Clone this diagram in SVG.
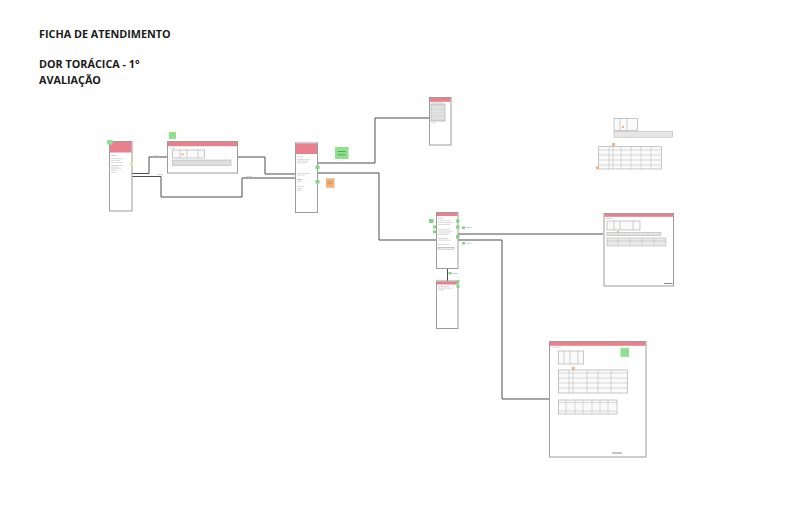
<svg xmlns="http://www.w3.org/2000/svg" width="789" height="506" viewBox="0 0 789 506">
  <style>
    .title { font-family: "Open Sans", "Liberation Sans", sans-serif; font-weight: 700; font-size: 10.8px; fill: #1a1a1a; }
    .card { fill: #ffffff; stroke: #9c9c9c; stroke-width: 1; }
    .hdr { fill: #e9808d; }
    .ln { fill: none; stroke: #4d4d4d; stroke-width: 1; }
    .tx { fill: #c4c4c4; }
    .tbl { fill: #f3f3f3; stroke: #a3a3a3; stroke-width: 0.6; }
    .row { fill: #d6d6d6; stroke: #a8a8a8; stroke-width: 0.5; }
    .gnote { fill: #8fe08f; }
    .onote { fill: #f2b27c; }
    .gdot { fill: #7fd87f; }
    .odot { fill: #f0a560; }
    .ydot { fill: #f2ec7a; }
    .foot { fill: #8c8c8c; }
  </style>

  <!-- heading -->
  <g id="heading">
    <text class="title" x="39" y="38">FICHA DE ATENDIMENTO</text>
    <text class="title" x="39" y="68">DOR TORÁCICA - 1°</text>
    <text class="title" x="39" y="84">AVALIAÇÃO</text>
  </g>

  <!-- connectors -->
  <g id="connectors">
    <polyline class="ln" points="132,173.5 149,173.5 149,157 167,157"/>
    <polyline class="ln" points="132,176.5 161,176.5 161,197 242,197 242,178 295,178"/>
    <polyline class="ln" points="238,157 265,157 265,174 295,174"/>
    <polyline class="ln" points="318,163 375,163 375,118 429,118"/>
    <polyline class="ln" points="318,173 379,173 379,240 436,240"/>
    <polyline class="ln" points="458,234 603,234"/>
    <polyline class="ln" points="458,240 502,240 502,399 549,399"/>
    <polyline class="ln" points="447.5,269 447.5,281"/>
    <!-- connector labels -->
    <rect class="tx" x="153" y="155.5" width="6" height="0.8"/>
    <rect class="tx" x="157" y="174.3" width="6" height="0.8"/>
    <rect class="tx" x="246" y="176.3" width="6" height="0.8"/>
    <rect class="gdot" x="462" y="226.5" width="3" height="2.5"/>
    <rect class="tx" x="465.5" y="227.2" width="6" height="0.8"/>
    <rect class="gdot" x="462" y="242" width="3" height="2.5"/>
    <rect class="tx" x="465.5" y="242.7" width="6" height="0.8"/>
    <rect class="gdot" x="448.5" y="272" width="3" height="2.5"/>
    <rect class="tx" x="452" y="273" width="6" height="0.8"/>
  </g>

  <!-- node: triagem -->
  <g id="node-triagem">
    <rect class="card" x="109.5" y="141.5" width="22.5" height="69.5"/>
    <rect class="hdr" x="110" y="142" width="21.5" height="10.5"/>
    <rect class="tx" x="111" y="155" width="6" height="0.7"/>
    <rect class="tx" x="111" y="158.5" width="12" height="0.6"/>
    <rect class="tx" x="111" y="160.3" width="9" height="0.6"/>
    <rect class="tx" x="111" y="162.1" width="11" height="0.6"/>
    <rect class="tx" x="111" y="165" width="12" height="0.6"/>
    <rect class="tx" x="111" y="166.8" width="8" height="0.6"/>
    <rect class="tx" x="111" y="168.6" width="10" height="0.6"/>
    <rect class="tx" x="111" y="170.4" width="6" height="0.6"/>
    <rect class="tx" x="111" y="172.2" width="5" height="0.6"/>
    <rect class="gnote" x="107" y="140" width="5.5" height="4.5"/>
    <rect class="ydot" x="130" y="162.5" width="3" height="2.5"/>
  </g>

  <!-- node: sinais vitais -->
  <g id="node-sinais">
    <rect class="card" x="167.5" y="141.5" width="70" height="31.5"/>
    <rect class="hdr" x="168" y="142" width="69" height="4.2"/>
    <rect class="tx" x="169" y="147.8" width="6" height="0.6"/>
    <rect class="tbl" x="172.5" y="150" width="32" height="8" style="fill:#fafafa"/>
    <line x1="180" y1="150" x2="180" y2="158" stroke="#a3a3a3" stroke-width="0.5"/>
    <line x1="187" y1="150" x2="187" y2="158" stroke="#a3a3a3" stroke-width="0.5"/>
    <line x1="198" y1="150" x2="198" y2="158" stroke="#a3a3a3" stroke-width="0.5"/>
    <circle class="odot" cx="182.5" cy="154.3" r="1.1"/>
    <rect class="row" x="172.5" y="160" width="58.5" height="5.5" style="fill:#dedede"/>
    <rect class="gnote" x="169" y="132" width="7" height="7"/>
  </g>

  <!-- node: anamnese -->
  <g id="node-anamnese">
    <rect class="card" x="295.5" y="143" width="22" height="69.5"/>
    <rect class="hdr" x="296" y="143.5" width="21" height="10.5"/>
    <rect class="tx" x="297" y="156.5" width="6" height="0.6"/>
    <rect class="tx" x="297" y="159" width="13" height="0.6"/>
    <rect class="tx" x="297" y="160.8" width="12" height="0.6"/>
    <rect class="tx" x="297" y="162.6" width="10" height="0.6"/>
    <rect class="tx" x="297" y="173" width="13" height="0.6"/>
    <rect class="tx" x="297" y="174.8" width="8" height="0.6"/>
    <rect class="tx" x="297" y="179" width="5" height="1.2"/>
    <rect class="tx" x="297" y="181.5" width="4" height="0.6"/>
    <rect class="tx" x="297" y="186" width="7" height="0.6"/>
    <rect class="tx" x="297" y="188" width="5" height="0.6"/>
    <rect class="tx" x="297" y="190" width="4" height="0.6"/>
    <rect class="gdot" x="315.5" y="165.5" width="4" height="3.5"/>
    <rect class="gdot" x="315.5" y="180" width="4" height="3.5"/>
    <rect class="gnote" x="335" y="147" width="13.5" height="12"/>
    <rect x="337.5" y="151" width="8" height="0.7" fill="#3f8f3f"/>
    <rect x="337.5" y="154.5" width="8" height="0.7" fill="#3f8f3f"/>
    <rect class="onote" x="326" y="178.3" width="8.5" height="9.5"/>
    <rect x="327.5" y="181.5" width="5" height="0.6" fill="#b87a4c"/>
    <rect x="327.5" y="183.5" width="5" height="0.6" fill="#b87a4c"/>
  </g>

  <!-- node: escores -->
  <g id="node-escores">
    <rect class="card" x="429.5" y="97.5" width="21.5" height="47.5"/>
    <rect class="hdr" x="430" y="98" width="20.5" height="3.8"/>
    <rect class="tx" x="431" y="102.5" width="12" height="0.6"/>
    <rect class="tbl" x="431" y="104" width="14" height="17" style="fill:#dcdcdc"/>
    <line x1="431" y1="107.5" x2="445" y2="107.5" stroke="#f3f3f3" stroke-width="0.5"/>
    <line x1="431" y1="111" x2="445" y2="111" stroke="#f3f3f3" stroke-width="0.5"/>
    <line x1="431" y1="114.5" x2="445" y2="114.5" stroke="#f3f3f3" stroke-width="0.5"/>
    <line x1="431" y1="118" x2="445" y2="118" stroke="#f3f3f3" stroke-width="0.5"/>
    <rect class="tx" x="431" y="122.5" width="5" height="0.6"/>
  </g>

  <!-- node: exame fisico -->
  <g id="node-exame">
    <rect class="card" x="436.5" y="212.5" width="21.5" height="56"/>
    <rect class="hdr" x="437" y="213" width="20.5" height="3"/>
    <rect class="tx" x="438" y="218" width="6" height="0.6"/>
    <rect class="tx" x="438" y="220.5" width="12" height="0.6"/>
    <rect class="tx" x="438" y="222.3" width="15" height="0.6"/>
    <rect class="tx" x="438" y="224.1" width="12" height="0.6"/>
    <rect class="tx" x="438" y="229" width="12" height="0.6"/>
    <rect class="tx" x="438" y="230.8" width="15" height="0.6"/>
    <rect class="tx" x="438" y="232.6" width="12" height="0.6"/>
    <rect class="tx" x="438" y="234.4" width="10" height="0.6"/>
    <rect class="tx" x="438" y="238" width="10" height="0.6"/>
    <rect class="tx" x="438" y="239.8" width="13" height="0.6"/>
    <rect class="tx" x="438" y="244" width="12" height="0.6"/>
    <rect x="438" y="247.5" width="16" height="1.6" fill="none" stroke="#8c8c8c" stroke-width="0.5"/>
    <rect class="gdot" x="429" y="219" width="4.5" height="4"/>
    <rect class="gdot" x="433" y="225.5" width="3" height="3"/>
    <rect class="gdot" x="433" y="230.3" width="3" height="3"/>
    <rect class="gdot" x="456" y="219.5" width="3.5" height="3"/>
    <rect class="gdot" x="456" y="225.5" width="3.5" height="3"/>
    <rect class="gdot" x="456" y="235" width="3.5" height="3.5"/>
  </g>

  <!-- node: conduta -->
  <g id="node-conduta">
    <rect class="card" x="436.5" y="281" width="21.5" height="47.5"/>
    <rect class="hdr" x="437" y="281.5" width="20.5" height="3"/>
    <rect class="tx" x="438" y="286" width="12" height="0.6"/>
    <rect class="tx" x="438" y="287.8" width="15" height="0.6"/>
    <rect class="tx" x="438" y="289.6" width="6" height="0.6"/>
    <rect class="gdot" x="456.5" y="280" width="3" height="3"/>
    <rect class="gdot" x="456.5" y="285" width="3" height="3"/>
  </g>

  <!-- node: exames complementares -->
  <g id="node-exames">
    <rect class="card" x="604" y="213.5" width="69.5" height="72.5"/>
    <rect class="hdr" x="604.5" y="214" width="68.5" height="2.8"/>
    <rect class="tx" x="606" y="218" width="6" height="0.6"/>
    <rect class="tbl" x="607" y="221" width="33" height="9" style="fill:#fafafa"/>
    <line x1="614" y1="221" x2="614" y2="230" stroke="#a3a3a3" stroke-width="0.5"/>
    <line x1="620" y1="221" x2="620" y2="230" stroke="#a3a3a3" stroke-width="0.5"/>
    <line x1="633" y1="221" x2="633" y2="230" stroke="#a3a3a3" stroke-width="0.5"/>
    <circle class="odot" cx="618" cy="232" r="1.1"/>
    <rect class="row" x="607" y="232.5" width="54" height="3" style="fill:#e2e2e2"/>
    <rect class="row" x="607" y="238" width="59" height="8" style="fill:#eaeaea"/>
    <line x1="607" y1="241" x2="666" y2="241" stroke="#a8a8a8" stroke-width="0.5"/>
    <line x1="618" y1="238" x2="618" y2="246" stroke="#a8a8a8" stroke-width="0.4"/>
    <line x1="630" y1="238" x2="630" y2="246" stroke="#a8a8a8" stroke-width="0.4"/>
    <line x1="642" y1="238" x2="642" y2="246" stroke="#a8a8a8" stroke-width="0.4"/>
    <line x1="654" y1="238" x2="654" y2="246" stroke="#a8a8a8" stroke-width="0.4"/>
    <rect class="foot" x="664" y="283" width="8.5" height="1"/>
  </g>

  <!-- node: prescricao -->
  <g id="node-prescricao">
    <rect class="card" x="549.5" y="341.5" width="96.5" height="115.5"/>
    <rect class="hdr" x="550" y="342" width="95.5" height="3.8"/>
    <rect class="tx" x="551" y="346.8" width="10" height="0.6"/>
    <rect class="tbl" x="558.5" y="351" width="25" height="13" style="fill:#fafafa"/>
    <line x1="564" y1="351" x2="564" y2="364" stroke="#a3a3a3" stroke-width="0.5"/>
    <line x1="570" y1="351" x2="570" y2="364" stroke="#a3a3a3" stroke-width="0.5"/>
    <line x1="578" y1="351" x2="578" y2="364" stroke="#a3a3a3" stroke-width="0.5"/>
    <rect class="onote" x="571.8" y="366.8" width="3" height="3"/>
    <rect class="tbl" x="558.5" y="370" width="69" height="23" style="fill:#fafafa"/>
    <line x1="558.5" y1="373" x2="627.5" y2="373" stroke="#a3a3a3" stroke-width="0.4"/>
    <line x1="558.5" y1="378" x2="627.5" y2="378" stroke="#a3a3a3" stroke-width="0.4"/>
    <line x1="558.5" y1="383" x2="627.5" y2="383" stroke="#a3a3a3" stroke-width="0.4"/>
    <line x1="558.5" y1="388" x2="627.5" y2="388" stroke="#a3a3a3" stroke-width="0.4"/>
    <line x1="569" y1="370" x2="569" y2="393" stroke="#a3a3a3" stroke-width="0.4"/>
    <line x1="573" y1="370" x2="573" y2="393" stroke="#a3a3a3" stroke-width="0.4"/>
    <line x1="587" y1="370" x2="587" y2="393" stroke="#a3a3a3" stroke-width="0.4"/>
    <line x1="598" y1="370" x2="598" y2="393" stroke="#a3a3a3" stroke-width="0.4"/>
    <line x1="611" y1="370" x2="611" y2="393" stroke="#a3a3a3" stroke-width="0.4"/>
    <rect class="tbl" x="558.5" y="400" width="58.5" height="14" style="fill:#fafafa"/>
    <line x1="558.5" y1="402.5" x2="617" y2="402.5" stroke="#a3a3a3" stroke-width="0.4"/>
    <line x1="558.5" y1="411" x2="617" y2="411" stroke="#a3a3a3" stroke-width="0.4"/>
    <line x1="566" y1="400" x2="566" y2="414" stroke="#a3a3a3" stroke-width="0.4"/>
    <line x1="575" y1="400" x2="575" y2="414" stroke="#a3a3a3" stroke-width="0.4"/>
    <line x1="583" y1="400" x2="583" y2="414" stroke="#a3a3a3" stroke-width="0.4"/>
    <line x1="592" y1="400" x2="592" y2="414" stroke="#a3a3a3" stroke-width="0.4"/>
    <line x1="600" y1="400" x2="600" y2="414" stroke="#a3a3a3" stroke-width="0.4"/>
    <line x1="608" y1="400" x2="608" y2="414" stroke="#a3a3a3" stroke-width="0.4"/>
    <rect class="gnote" x="620.5" y="347.8" width="8.5" height="9"/>
    <rect class="foot" x="612" y="452.5" width="10" height="1"/>
  </g>

  <!-- loose tables -->
  <g id="loose-tables">
    <rect class="tbl" x="614" y="118.5" width="23.5" height="12" style="fill:#fafafa"/>
    <line x1="620" y1="118.5" x2="620" y2="130.5" stroke="#a3a3a3" stroke-width="0.5"/>
    <line x1="627" y1="118.5" x2="627" y2="130.5" stroke="#a3a3a3" stroke-width="0.5"/>
    <circle class="odot" cx="623" cy="127" r="1.1"/>
    <rect class="row" x="614" y="131.7" width="58.7" height="5.5" style="fill:#e6e6e6"/>
    <rect class="onote" x="612" y="143" width="3" height="3"/>
    <rect class="tbl" x="598.5" y="146.7" width="63" height="22.3" style="fill:#fafafa"/>
    <line x1="598.5" y1="150" x2="661.5" y2="150" stroke="#a3a3a3" stroke-width="0.4"/>
    <line x1="598.5" y1="155" x2="661.5" y2="155" stroke="#a3a3a3" stroke-width="0.4"/>
    <line x1="598.5" y1="160" x2="661.5" y2="160" stroke="#a3a3a3" stroke-width="0.4"/>
    <line x1="598.5" y1="165" x2="661.5" y2="165" stroke="#a3a3a3" stroke-width="0.4"/>
    <line x1="609" y1="146.7" x2="609" y2="169" stroke="#a3a3a3" stroke-width="0.4"/>
    <line x1="613" y1="146.7" x2="613" y2="169" stroke="#a3a3a3" stroke-width="0.4"/>
    <line x1="621" y1="146.7" x2="621" y2="169" stroke="#a3a3a3" stroke-width="0.4"/>
    <line x1="631" y1="146.7" x2="631" y2="169" stroke="#a3a3a3" stroke-width="0.4"/>
    <line x1="641" y1="146.7" x2="641" y2="169" stroke="#a3a3a3" stroke-width="0.4"/>
    <line x1="651" y1="146.7" x2="651" y2="169" stroke="#a3a3a3" stroke-width="0.4"/>
    <rect class="onote" x="596" y="166.3" width="3" height="3"/>
  </g>
</svg>
